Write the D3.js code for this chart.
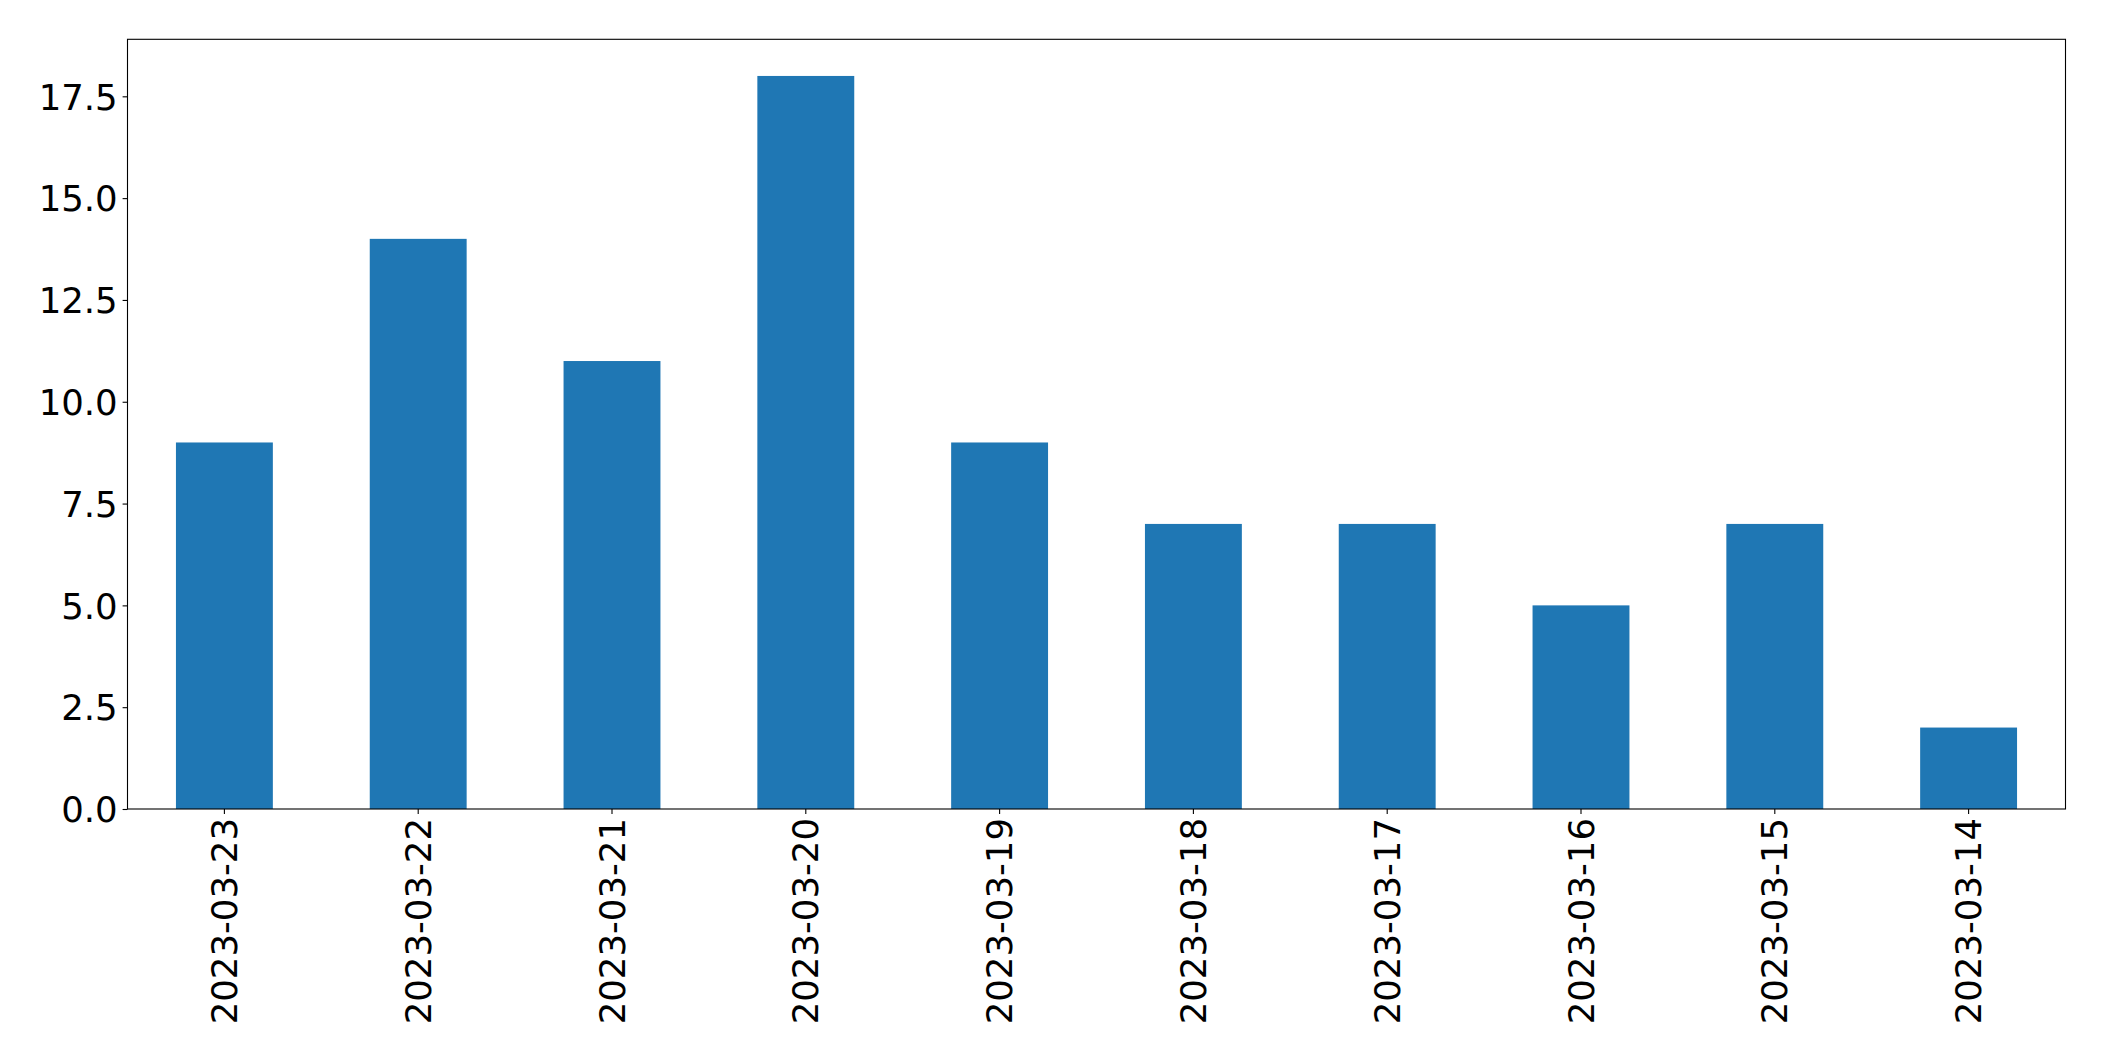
<!DOCTYPE html>
<html>
<head>
<meta charset="utf-8">
<script src="https://cdn.jsdelivr.net/npm/d3@7"></script>
<style>
  html, body { margin: 0; padding: 0; background: #ffffff; }
  svg { display: block; }
  text { font-family: "DejaVu Sans", sans-serif; fill: #000; }
</style>
</head>
<body>
<svg id="chart" width="2104" height="1061"></svg>
<script>
const categories = ["2023-03-23", "2023-03-22", "2023-03-21", "2023-03-20", "2023-03-19",
                    "2023-03-18", "2023-03-17", "2023-03-16", "2023-03-15", "2023-03-14"];
const values = [9, 14, 11, 18, 9, 7, 7, 5, 7, 2];
const yTicks = [0, 2.5, 5, 7.5, 10, 12.5, 15, 17.5];

const W = 2104, H = 1061;
const margin = { left: 127.5, right: W - 2065.5, top: 39.3, bottom: H - 809 };
const svg = d3.select("#chart");
const fontSize = 35.5;

const x = d3.scaleBand()
  .domain(categories)
  .range([margin.left, W - margin.right])
  .paddingInner(0.5)
  .paddingOuter(0.25);

const y = d3.scaleLinear()
  .domain([0, d3.max(values) * 1.05])
  .range([H - margin.bottom, margin.top]);

// bars
svg.append("g").selectAll("rect")
  .data(values)
  .join("rect")
  .attr("x", (d, i) => x(categories[i]))
  .attr("width", x.bandwidth())
  .attr("y", d => y(d))
  .attr("height", d => y(0) - y(d))
  .attr("fill", "#1f77b4");

// y axis
const yAxis = d3.axisLeft(y)
  .tickValues(yTicks)
  .tickFormat(d3.format(".1f"))
  .tickSize(4.9)
  .tickPadding(4.9);
const gy = svg.append("g")
  .attr("transform", `translate(${margin.left},0)`)
  .call(yAxis);
gy.select(".domain").remove();
gy.selectAll(".tick line").attr("stroke", "#000").attr("stroke-width", 1.1);
gy.selectAll(".tick text")
  .attr("font-size", fontSize)
  .attr("font-family", "DejaVu Sans")
  .attr("fill", "#000")
  .attr("dy", "0.36em");

// x axis
const xAxis = d3.axisBottom(x).tickSize(4.9).tickPadding(0);
const gx = svg.append("g")
  .attr("transform", `translate(0,${H - margin.bottom})`)
  .call(xAxis);
gx.select(".domain").remove();
gx.selectAll(".tick line").attr("stroke", "#000").attr("stroke-width", 1.1);
gx.selectAll(".tick text")
  .attr("font-size", fontSize)
  .attr("font-family", "DejaVu Sans")
  .attr("fill", "#000")
  .attr("text-anchor", "end")
  .attr("dominant-baseline", "central")
  .attr("dy", null)
  .attr("y", 0)
  .attr("transform", "translate(0,9) rotate(-90)");

// frame (spines)
svg.append("rect")
  .attr("x", margin.left)
  .attr("y", margin.top)
  .attr("width", W - margin.right - margin.left)
  .attr("height", H - margin.bottom - margin.top)
  .attr("fill", "none")
  .attr("stroke", "#000")
  .attr("stroke-width", 1.1);
</script>
</body>
</html>
